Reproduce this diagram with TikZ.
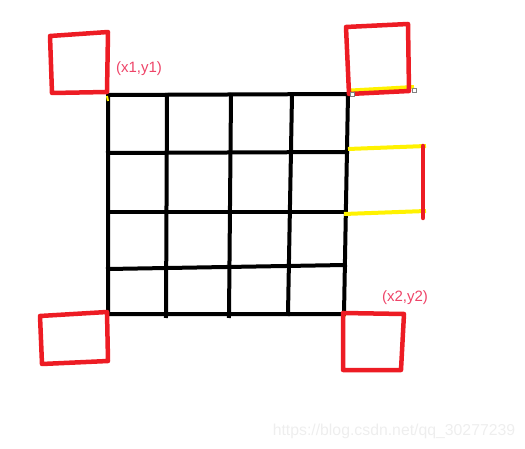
\documentclass[tikz,border=0pt]{standalone}
\usepackage{fontspec}
\setmainfont{Liberation Sans}
\usepackage{xcolor}
\usepackage{tikz}
\usetikzlibrary{positioning,calc}
\definecolor{paintred}{RGB}{237, 28, 36}
\definecolor{paintyellow}{RGB}{255, 242, 0}
\definecolor{labelpink}{RGB}{238, 68, 104}
\definecolor{markgrey}{RGB}{238, 238, 238}

\tikzset{
    gridline/.style={line width=4pt,black,line cap=rect},
    redline/.style={line width=4.5pt,paintred,line cap=round,line join=round},
    yellowline/.style={line width=4pt,paintyellow},
    cornerlabel/.style={text=labelpink,font=\fontsize{15}{15}\selectfont,inner sep=0pt}
}

\begin{document}
\begin{tikzpicture}[x=1pt,y=-1pt]
    \useasboundingbox (0,0) rectangle (525,449);
    % grid
    \draw[gridline] (108,95) -- (348,94) -- (344,314) -- (108,314) -- cycle;
    \draw[gridline] (167,95) -- (166,316);
    \draw[gridline] (231,95) -- (229,316);
    \draw[gridline] (292,95) -- (288,314);
    \draw[gridline] (108,153) -- (347,152);
    \draw[gridline] (108,212) -- (346,212);
    \draw[gridline] (108,269) -- (345,265);
    % yellow edges
    \draw[yellowline] (351,90.5) -- (414,87);
    \draw[yellowline] (348,149) -- (426,146);
    \draw[yellowline] (344,214) -- (426,211);
    \draw[paintyellow,line width=2pt] (107,96) -- (108,101);
    \draw[paintyellow,line width=1.5pt] (343,311) -- (345,317);
    % red squares
    \draw[redline] (50,36) -- (108,32) -- (107,92) -- (52,93) -- cycle;
    \draw[redline] (346,27) -- (408,24) -- (409,91) -- (349,94) -- cycle;
    \draw[redline] (423,146) -- (423,218);
    \draw[redline] (40,316) -- (107,312) -- (108,361) -- (42,364) -- cycle;
    \draw[redline] (343,313) -- (404,314) -- (401,370) -- (343,370) -- cycle;
    % selection handles
    \draw[gray,fill=white,line width=0.8pt] (350.5,92) rectangle (354.5,96);
    \draw[gray,fill=white,line width=0.8pt] (412,88) rectangle (416,92);
    % labels
    \node[cornerlabel] (p1) at (139,69) {(x1,y1)};
    \node[cornerlabel] (p2) at (405,298) {(x2,y2)};
    \node[text=markgrey,font=\fontsize{15.8}{15.8}\selectfont,inner sep=0pt] (mark) at (394,431) {https://blog.csdn.net/qq\_30277239};
\end{tikzpicture}
\end{document}
